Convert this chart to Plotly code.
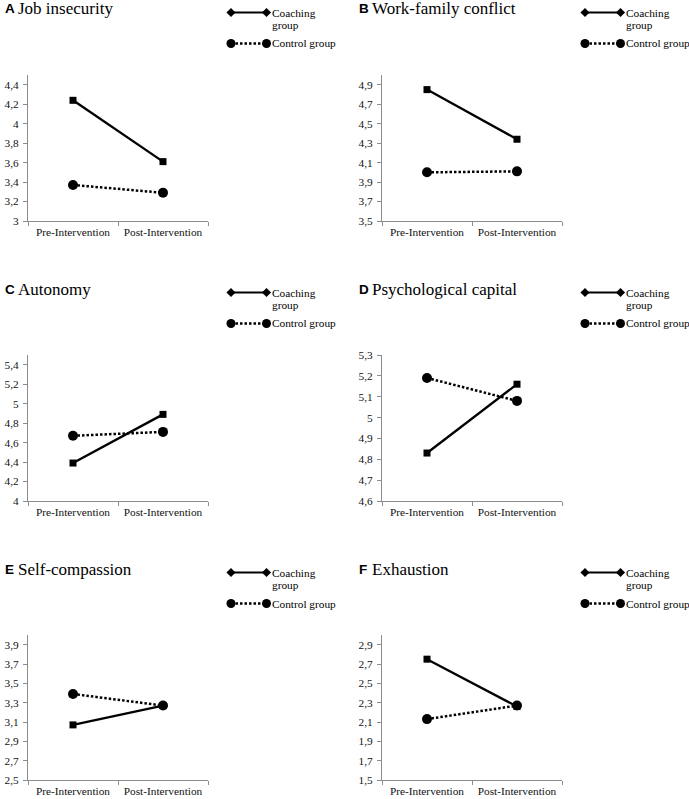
import plotly.graph_objects as go

W, H = 689, 799

categories = ["Pre-Intervention", "Post-Intervention"]
panel_letters = ["A", "B", "C", "D", "E", "F"]
panel_titles = ["Job insecurity", "Work-family conflict", "Autonomy",
                "Psychological capital", "Self-compassion", "Exhaustion"]
coaching = [[4.24, 3.61], [4.85, 4.34], [4.39, 4.89],
            [4.83, 5.16], [3.07, 3.27], [2.75, 2.26]]
control = [[3.37, 3.29], [4.00, 4.01], [4.67, 4.71],
           [5.19, 5.08], [3.39, 3.27], [2.13, 2.27]]
y_ranges = [[3.0, 4.5], [3.5, 5.0], [4.0, 5.5], [4.6, 5.3], [2.5, 4.0], [1.5, 3.0]]
y_dticks = [0.2, 0.2, 0.2, 0.1, 0.2, 0.2]
series_names = ["Coaching group", "Control group"]

SERIF = "Liberation Serif"
SANS = "Liberation Sans"
AXC = "#8c8c8c"

fig = go.Figure()

col_x = [28, 382]
row_top = [75, 355, 635]
row_bot = [221, 501, 780]
plot_w = 180

def px(x):
    return x / W

def py(y):
    return 1 - y / H

for i in range(6):
    r, c = divmod(i, 2)
    ax = "" if i == 0 else str(i + 1)
    x0 = col_x[c]
    xd = [px(x0), px(x0 + plot_w)]
    yd = [py(row_bot[r]), py(row_top[r])]
    fig.add_trace(go.Scatter(
        x=categories, y=coaching[i], mode="lines+markers",
        line=dict(color="black", width=2.3),
        marker=dict(symbol="square", size=7, color="black"),
        xaxis="x" + ax, yaxis="y" + ax, showlegend=False, name=series_names[0]))
    fig.add_trace(go.Scatter(
        x=categories, y=control[i], mode="lines+markers",
        line=dict(color="black", width=2.5, dash="2.5px,2px"),
        marker=dict(symbol="circle", size=10, color="black"),
        xaxis="x" + ax, yaxis="y" + ax, showlegend=False, name=series_names[1]))
    fig.layout["xaxis" + ax] = dict(
        domain=xd, anchor="y" + ax, type="category", range=[-0.5, 1.5],
        showline=True, linecolor=AXC, linewidth=1, showgrid=False, zeroline=False,
        ticks="outside", tickson="boundaries", ticklen=4, tickcolor=AXC,
        tickfont=dict(family=SERIF, size=11.3, color="#111"), fixedrange=True,
        automargin=False)
    fig.layout["yaxis" + ax] = dict(
        domain=yd, anchor="x" + ax, range=y_ranges[i], dtick=y_dticks[i], tick0=y_ranges[i][0],
        showline=True, linecolor=AXC, linewidth=1, showgrid=False, zeroline=False,
        ticks="outside", ticklen=4, tickcolor=AXC, ticklabelstandoff=2,
        tickfont=dict(family=SERIF, size=11.3, color="#111"), fixedrange=True,
        automargin=False)

    off_x = 354 * c
    off_y = [0, 280, 560][r]
    fig.add_annotation(x=px(3 + off_x), y=py(9 + off_y), xref="paper", yref="paper",
                       text="<b>" + panel_letters[i] + "</b>", showarrow=False,
                       xanchor="left", yanchor="middle",
                       font=dict(family=SANS, size=13.5, color="black"))
    fig.add_annotation(x=px(16 + off_x), y=py(9 + off_y), xref="paper", yref="paper",
                       text=panel_titles[i], showarrow=False,
                       xanchor="left", yanchor="middle",
                       font=dict(family=SERIF, size=17, color="black"))
    lx0, lx1 = 231 + off_x, 266.5 + off_x
    fig.add_trace(go.Scatter(
        x=[lx0, lx1], y=[12.5 + off_y, 12.5 + off_y], mode="lines+markers",
        line=dict(color="black", width=2), marker=dict(symbol="diamond", size=7, color="black"),
        xaxis="x7", yaxis="y7", showlegend=False, hoverinfo="skip"))
    fig.add_trace(go.Scatter(
        x=[lx0, lx1], y=[43.5 + off_y, 43.5 + off_y], mode="lines+markers",
        line=dict(color="black", width=2.3, dash="2.5px,2px"),
        marker=dict(symbol="circle", size=9, color="black"),
        xaxis="x7", yaxis="y7", showlegend=False, hoverinfo="skip"))
    for txt, ty in (("Coaching", 12.5), ("group", 25), ("Control group", 43.5)):
        fig.add_annotation(x=px(269.5 + off_x), y=py(ty + off_y), xref="paper", yref="paper",
                           text=txt, showarrow=False, align="left",
                           xanchor="left", yanchor="middle",
                           font=dict(family=SERIF, size=11.3, color="black"))

fig.layout["xaxis7"] = dict(domain=[0, 1], anchor="y7", range=[0, W], visible=False, fixedrange=True)
fig.layout["yaxis7"] = dict(domain=[0, 1], anchor="x7", range=[H, 0], visible=False, fixedrange=True)

fig.update_layout(
    width=W, height=H, autosize=False, margin=dict(l=0, r=0, t=0, b=0, pad=0),
    paper_bgcolor="white", plot_bgcolor="rgba(0,0,0,0)",
    separators=", ", showlegend=False,
)

fig.write_html("out.html", config={"displayModeBar": False},
               post_script="document.body.style.margin='0';document.body.style.padding='0';")
